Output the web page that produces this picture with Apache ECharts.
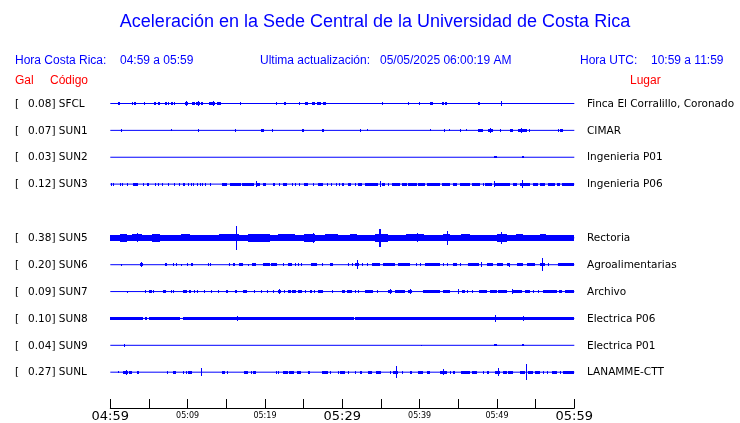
<!DOCTYPE html>
<html><head><meta charset="utf-8">
<script src="https://cdn.jsdelivr.net/npm/echarts/dist/echarts.min.js"></script>
<style>html,body{margin:0;padding:0;background:#fff}#c{width:740px;height:423px}</style>
</head><body><div id="c"></div>
<script>
// ---- data ----
const titleText = 'Aceleración en la Sede Central de la Universidad de Costa Rica';
const codes  = ['SFCL','SUN1','SUN2','SUN3','SUN5','SUN6','SUN7','SUN8','SUN9','SUNL'];
const peaks  = ['0.08','0.07','0.03','0.12','0.38','0.20','0.09','0.10','0.04','0.27'];
const places = ['Finca El Corralillo, Coronado','CIMAR','Ingenieria P01','Ingenieria P06','Rectoria',
                'Agroalimentarias','Archivo','Electrica P06','Electrica P01','LANAMME-CTT'];
const rows   = [0,1,2,3,5,6,7,8,9,10];           // slot 4 (SUN4) is empty
const tickLabels = ['04:59','','05:09','','05:19','','05:29','','05:39','','05:49','','05:59'];
const bigTicks = [0,6,12];

// events: [start minute after 04:59, duration (min), half amplitude (Gal)]
const sfcl = [[1.0,0.3,0.05],[2.8,0.1,0.05],[3.05,0.3,0.05],[4.4,0.1,0.05],[5.6,0.1,0.05],[5.82,0.1,0.05],[6.2,0.25,0.05],[7.1,0.2,0.05],[7.45,0.2,0.05],[7.9,0.2,0.05],[8.25,0.1,0.05],[9.6,0.5,0.05],[9.85,0.12,0.08],[10.6,0.35,0.05],[11.1,0.5,0.05],[11.35,0.12,0.08],[11.75,0.2,0.05],[12.7,0.8,0.05],[13.3,0.12,0.08],[13.8,0.45,0.05],[16.8,0.1,0.05],[21.45,0.1,0.05],[22.5,0.25,0.05],[24.4,0.1,0.05],[25.2,0.35,0.05],[26.1,0.35,0.05],[26.7,0.55,0.05],[27.55,0.3,0.05],[28.6,0.15,0.03],[35.15,0.1,0.05],[38.45,0.1,0.05],[39.95,0.1,0.05],[41.35,0.35,0.05],[42.9,0.2,0.05],[43.3,0.2,0.05],[47.55,0.2,0.05],[50.55,0.12,0.08],[58.7,0.1,0.03]];
const sun1 = [[1.4,0.1,0.05],[7.85,0.1,0.03],[11.3,0.15,0.045],[16.15,0.1,0.05],[19.55,0.35,0.05],[20.85,0.2,0.05],[24.85,0.25,0.05],[27.4,0.25,0.05],[32.35,0.1,0.05],[33.15,0.1,0.03],[41.3,0.1,0.03],[43.2,0.1,0.05],[43.75,0.1,0.03],[45.25,0.1,0.05],[46.05,0.1,0.03],[47.6,0.6,0.05],[48.85,0.6,0.05],[49.15,0.12,0.07],[50.45,0.1,0.05],[51.75,0.3,0.05],[52.75,1.1,0.05],[53.15,0.12,0.07],[54.15,0.15,0.05],[57.95,0.1,0.05],[58.15,0.35,0.05]];
const sun2 = [[49.6,0.35,0.035],[53.2,0.35,0.035]];
const sun3 = [[0.1,0.1,0.05],[0.38,0.1,0.05],[1.2,0.15,0.05],[1.55,0.1,0.05],[2.1,0.15,0.05],[2.95,0.6,0.05],[4.22,0.1,0.05],[4.8,0.25,0.05],[5.77,0.1,0.05],[6.2,0.1,0.05],[6.63,0.1,0.05],[7.48,0.12,0.05],[8.27,0.1,0.05],[8.87,0.1,0.05],[9.4,0.3,0.05],[10.0,0.1,0.05],[10.42,0.1,0.05],[10.73,0.1,0.05],[11.24,0.1,0.05],[11.6,0.1,0.05],[11.9,0.1,0.05],[12.2,0.2,0.05],[12.93,0.1,0.05],[14.4,0.75,0.05],[15.5,1.4,0.05],[17.05,1.55,0.05],[18.78,0.12,0.09],[18.95,0.4,0.05],[19.78,0.3,0.05],[21.0,0.3,0.05],[21.85,0.1,0.05],[22.35,0.45,0.05],[23.44,0.1,0.05],[23.87,0.1,0.05],[24.43,0.12,0.05],[25.05,0.55,0.05],[26.24,0.1,0.05],[26.8,0.75,0.05],[27.97,0.1,0.05],[28.6,0.12,0.05],[29.13,0.1,0.05],[29.56,0.1,0.05],[29.92,0.1,0.05],[30.13,0.1,0.05],[30.78,0.3,0.05],[31.64,0.1,0.05],[32.07,0.43,0.05],[32.93,1.73,0.05],[34.85,0.12,0.1],[35.09,0.43,0.05],[35.95,0.1,0.05],[36.38,1.08,0.05],[37.67,0.65,0.05],[38.54,1.07,0.05],[39.83,0.86,0.05],[40.99,1.64,0.05],[42.85,1.07,0.05],[44.36,0.43,0.05],[45.22,1.29,0.05],[46.73,1.07,0.05],[48.15,0.1,0.05],[48.45,0.86,0.05],[49.6,0.12,0.09],[49.74,1.94,0.05],[52.03,0.51,0.05],[52.98,1.29,0.05],[53.3,0.12,0.12],[54.7,0.65,0.05],[55.56,0.65,0.05],[56.64,0.86,0.05],[57.8,0.35,0.05],[58.45,1.55,0.05]];
const sun5 = [[0,60,0.085],[1.25,0.85,0.12],[2.76,1.3,0.11],[3.4,0.15,0.14],[5.35,1.05,0.12],[9.2,1.1,0.11],[10.9,1.8,0.1],[14.0,2.6,0.11],[16.28,0.15,0.38],[17.8,2.85,0.12],[21.7,2.2,0.11],[25.0,1.5,0.12],[26.25,0.15,0.15],[27.8,1.7,0.11],[29.7,0.86,0.1],[31.0,0.85,0.11],[34.2,1.75,0.12],[34.8,0.15,0.29],[38.3,2.2,0.11],[39.6,0.15,0.14],[41.8,0.6,0.1],[43.05,0.87,0.11],[43.48,0.15,0.23],[45.4,1.1,0.11],[46.9,0.9,0.1],[49.96,1.29,0.12],[50.55,0.15,0.18],[52.5,0.9,0.11],[55.56,0.84,0.11],[57.7,2.2,0.1]];
const sun6 = [[1.35,0.1,0.03],[3.8,0.45,0.05],[3.95,0.12,0.08],[7.05,0.25,0.05],[8.13,0.1,0.05],[8.44,0.1,0.05],[9.18,0.1,0.03],[9.86,0.1,0.05],[10.4,0.35,0.05],[12.57,0.1,0.05],[12.88,0.1,0.05],[15.33,0.1,0.05],[15.88,0.3,0.05],[16.62,0.5,0.05],[17.84,0.1,0.03],[18.26,0.55,0.05],[19.78,0.87,0.05],[20.76,0.85,0.05],[22.28,0.1,0.05],[22.92,0.53,0.05],[23.86,0.1,0.05],[24.3,0.1,0.05],[24.64,0.1,0.05],[25.94,0.8,0.05],[27.4,0.1,0.05],[28.44,0.4,0.05],[30.77,0.1,0.05],[31.2,0.1,0.05],[31.64,0.52,0.05],[31.95,0.12,0.14],[32.5,0.1,0.05],[33.14,0.1,0.05],[33.8,1.07,0.05],[35.2,1.61,0.05],[37.24,1.51,0.05],[39.52,0.1,0.05],[40.03,0.1,0.05],[40.69,1.94,0.05],[43.05,0.1,0.05],[43.48,0.1,0.05],[44.36,0.51,0.05],[45.21,0.1,0.05],[46.29,1.43,0.05],[47.88,0.12,0.07],[48.67,0.86,0.05],[49.96,0.86,0.05],[51.25,0.43,0.05],[51.6,0.12,0.06],[52.54,0.87,0.05],[53.84,1.08,0.05],[55.56,0.65,0.05],[55.88,0.12,0.2],[56.63,0.1,0.05],[57.93,2.07,0.05]];
const sun7 = [[2.18,0.1,0.03],[4.48,0.1,0.05],[5.05,0.3,0.05],[5.55,0.1,0.05],[6.86,0.34,0.05],[7.84,0.1,0.05],[8.14,0.1,0.05],[9.44,0.44,0.05],[10.19,0.2,0.05],[10.85,0.1,0.05],[11.2,0.1,0.05],[12.15,0.1,0.05],[13.01,0.1,0.05],[13.95,0.1,0.05],[14.92,0.26,0.05],[16.12,0.22,0.05],[17.2,0.43,0.05],[18.61,0.1,0.05],[19.47,0.1,0.05],[20.21,0.1,0.05],[21.0,0.21,0.05],[21.73,0.3,0.05],[21.85,0.12,0.08],[22.45,0.1,0.05],[22.93,0.39,0.05],[23.54,0.43,0.05],[24.31,0.43,0.05],[25.17,0.1,0.05],[25.82,0.22,0.05],[26.29,0.1,0.05],[26.9,0.65,0.05],[28.61,0.1,0.05],[29.92,0.43,0.05],[30.56,0.64,0.05],[31.63,0.1,0.05],[32.06,0.1,0.05],[32.93,1.08,0.05],[34.43,0.1,0.05],[35.95,0.43,0.05],[36.15,0.12,0.08],[36.81,1.29,0.05],[38.54,0.43,0.05],[38.75,0.12,0.07],[40.48,2.15,0.05],[43.06,0.86,0.05],[44.99,0.12,0.07],[45.43,0.43,0.05],[46.16,0.1,0.05],[46.73,0.21,0.05],[47.72,0.95,0.05],[49.1,0.86,0.05],[50.17,1.08,0.05],[51.88,0.12,0.07],[52.11,1.08,0.05],[53.62,0.65,0.05],[54.7,0.1,0.05],[55.34,0.1,0.05],[55.99,1.73,0.05],[58.06,0.3,0.05],[58.8,1.2,0.05]];
const sun8 = [[0,4.25,0.045],[4.45,0.35,0.045],[5.05,4.0,0.045],[9.35,22.1,0.045],[31.7,28.3,0.045],[16.35,0.15,0.08],[43.45,0.1,0.06],[49.78,0.15,0.11],[53.35,0.15,0.07],[58.8,0.1,0.06]];
const sun9 = [[1.78,0.1,0.04],[40.24,0.1,0.02],[49.6,0.35,0.035],[53.2,0.35,0.035]];
const sunl = [[0.94,0.1,0.03],[1.69,0.56,0.05],[1.98,0.12,0.08],[2.42,0.34,0.05],[3.4,0.1,0.05],[3.62,0.1,0.05],[7.36,0.1,0.05],[8.14,0.31,0.05],[9.43,0.1,0.05],[9.74,0.1,0.05],[10.08,0.44,0.05],[11.75,0.15,0.12],[14.4,0.43,0.05],[15.04,0.1,0.05],[17.33,0.43,0.05],[18.14,0.1,0.05],[18.5,0.3,0.05],[21.37,0.1,0.05],[21.72,0.1,0.05],[22.37,0.65,0.05],[23.1,0.65,0.05],[24.1,0.56,0.05],[25.52,0.3,0.05],[27.33,0.86,0.05],[28.4,0.1,0.05],[29.48,0.1,0.05],[29.7,0.65,0.05],[30.77,0.1,0.05],[31.63,0.1,0.05],[32.29,0.21,0.05],[33.36,0.44,0.05],[34.35,0.61,0.05],[36.16,0.1,0.05],[36.6,0.64,0.05],[36.9,0.12,0.18],[37.66,0.1,0.05],[38.75,0.22,0.05],[39.83,0.65,0.05],[40.99,0.35,0.05],[42.63,0.86,0.05],[43.05,0.12,0.1],[43.91,0.1,0.05],[44.36,0.21,0.05],[45.35,1.16,0.05],[46.73,0.64,0.05],[48.22,0.1,0.05],[48.67,0.34,0.05],[49.74,0.65,0.05],[50.15,0.12,0.12],[50.82,0.43,0.05],[51.47,0.64,0.05],[52.98,0.64,0.05],[53.73,0.12,0.25],[54.05,0.65,0.05],[54.92,0.64,0.05],[55.99,0.1,0.05],[56.41,0.1,0.05],[57.07,0.65,0.05],[58.14,0.1,0.05],[58.58,1.42,0.05]];
const traces = [sfcl, sun1, sun2, sun3, sun5, sun6, sun7, sun8, sun9, sunl];

// ---- rendering ----
const BLUE = '#0000ff', RED = '#ff0000';
const GAL_ROWS = 32 / 27;   // vertical scale: 1 Gal in row units
const SANS = 'Liberation Sans, Arial, sans-serif';
const DEJA = 'DejaVu Sans, sans-serif';

const chart = echarts.init(document.getElementById('c'), null, {renderer: 'canvas'});

function renderEvent(params, api) {
  const s = api.value(0), d = api.value(1), a = api.value(2), r = api.value(3);
  const p0 = api.coord([s, r - a * GAL_ROWS]);
  const p1 = api.coord([s + d, r + a * GAL_ROWS]);
  const x = Math.round(p0[0]);
  const w = Math.max(1, Math.round(p1[0]) - x);
  const y0 = Math.round(Math.min(p0[1], p1[1]));
  const y1 = Math.round(Math.max(p0[1], p1[1]));
  return {type: 'rect', shape: {x: x, y: y0, width: w, height: Math.max(1, y1 - y0)}, style: {fill: BLUE}};
}

function renderBase(params, api) {
  const i = params.dataIndex;
  const a = api.coord([0, rows[i]]);
  const b = api.coord([60, rows[i]]);
  const y = a[1];
  const f = '10.5px ' + DEJA;
  return {type: 'group', children: [
    {type: 'line', shape: {x1: a[0], y1: y, x2: b[0], y2: y}, style: {stroke: BLUE, lineWidth: 1}},
    {type: 'text', x: 15, y: y + 0.5, style: {text: '[', fill: '#000', font: f, align: 'left', verticalAlign: 'middle'}},
    {type: 'text', x: 28, y: y + 0.5, style: {text: peaks[i] + '] ' + codes[i], fill: '#000', font: f, align: 'left', verticalAlign: 'middle'}},
    {type: 'text', x: 587, y: y + 0.5, style: {text: places[i], fill: '#000', font: f, align: 'left', verticalAlign: 'middle'}}
  ]};
}

const series = [{
  type: 'custom', name: 'base', renderItem: renderBase, clip: false, silent: true,
  data: rows.map((r, i) => [0, r, i]), encode: {x: 0, y: 1}
}];
traces.forEach((tr, i) => {
  series.push({
    type: 'custom', name: codes[i], renderItem: renderEvent, clip: false, silent: true,
    data: tr.map(e => [e[0], e[1], e[2], rows[i]]), encode: {x: 0, y: 3}
  });
});

function txt(x, y, text, color, size, align, font) {
  return {type: 'text', x: x, y: y, style: {text: text, fill: color, font: size + 'px ' + (font || SANS), align: align || 'left', verticalAlign: 'middle'}};
}

chart.setOption({
  animation: false,
  backgroundColor: '#fff',
  grid: {left: 110.3, right: 165.7, top: 103.5, bottom: 13.5, containLabel: false},
  xAxis: {
    type: 'value', min: 0, max: 60, interval: 5, position: 'bottom',
    axisLine: {show: true, onZero: false, lineStyle: {color: '#000', width: 1}},
    axisTick: {show: true, inside: true, length: 9, lineStyle: {color: '#000'}},
    splitLine: {show: false},
    axisLabel: {
      show: true, margin: 1, showMinLabel: true, showMaxLabel: true, hideOverlap: false,
      formatter: v => {
        const i = Math.round(v / 5);
        const t = tickLabels[i];
        if (!t) return '';
        return bigTicks.includes(i) ? '{b|' + t + '}' : '{s|' + t + '}';
      },
      rich: {
        b: {fontSize: 13, fontFamily: DEJA, color: '#000', lineHeight: 15},
        s: {fontSize: 8, fontFamily: DEJA, color: '#000', lineHeight: 14}
      }
    }
  },
  yAxis: {type: 'value', min: 0, max: 11.3333, inverse: true, show: false, splitLine: {show: false}},
  graphic: [
    txt(375, 22, titleText, BLUE, 18, 'center'),
    txt(15, 61, 'Hora Costa Rica:', BLUE, 12),
    txt(120, 61, '04:59 a 05:59', BLUE, 12),
    txt(260, 61, 'Ultima actualización:', BLUE, 12),
    txt(380, 61, '05/05/2025 06:00:19 AM', BLUE, 12),
    txt(580, 61, 'Hora UTC:', BLUE, 12),
    txt(651, 61, '10:59 a 11:59', BLUE, 12),
    txt(15, 81, 'Gal', RED, 12),
    txt(50, 81, 'Código', RED, 12),
    txt(630, 81, 'Lugar', RED, 12)
  ],
  series: series
});
</script></body></html>
